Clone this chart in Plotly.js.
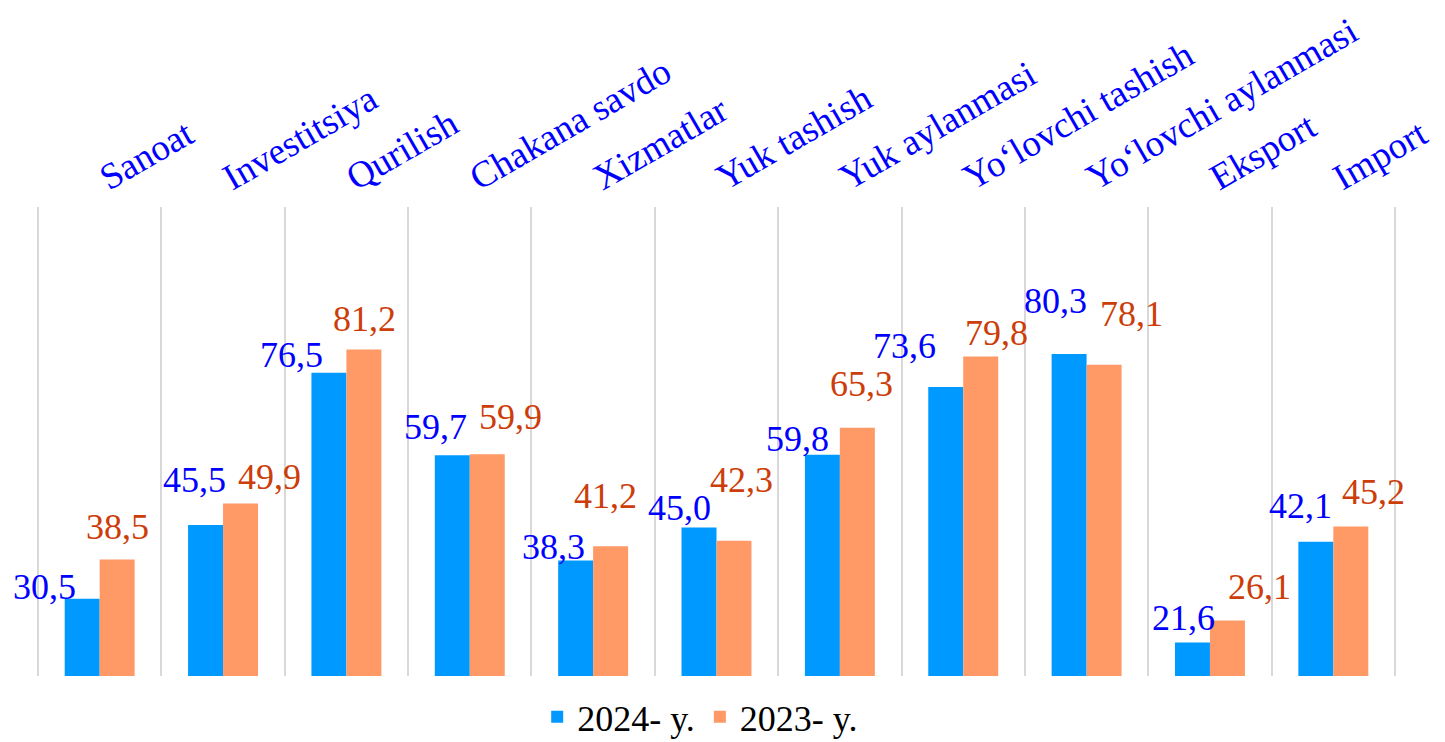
<!DOCTYPE html>
<html>
<head>
<meta charset="utf-8">
<script src="https://cdn.plot.ly/plotly-3.0.1.min.js"></script>
<style>
  html, body { margin: 0; padding: 0; background: #ffffff; }
  #chart { width: 1445px; height: 742px; }
  svg text { font-family: "Liberation Serif", "Times New Roman", "DejaVu Serif", serif !important; }
</style>
</head>
<body>
<div id="chart"></div>
<script>
// ---- data ----
const categories = ["Sanoat", "Investitsiya", "Qurilish", "Chakana savdo", "Xizmatlar",
  "Yuk tashish", "Yuk aylanmasi", "Yo\u2018lovchi tashish", "Yo\u2018lovchi aylanmasi", "Eksport", "Import"];
const values2024 = [30.5, 45.5, 76.5, 59.7, 38.3, 45.0, 59.8, 73.6, 80.3, 21.6, 42.1];
const values2023 = [38.5, 49.9, 81.2, 59.9, 41.2, 42.3, 65.3, 79.8, 78.1, 26.1, 45.2];
const seriesNames = ["2024- y.", "2023- y."];

// ---- label placement nudges (pixels: dx from category centre, dy above bar top) ----
const nudgeDx2024 = [-55, -29, -55, -34, -40, -37, -42, -59, -31, -26, -33];
const nudgeDy2024 = [12, 45, 18, 28, 13, 20, 16, 41, 53, 25, 36];
const nudgeDx2023 = [18, 46, 18, 41, 12, 25, 22, 33, 45, 50, 40];
const nudgeDy2023 = [32, 26, 31, 37, 50, 61, 44, 23, 51, 33, 35];

const blue = "#0099FF", orange = "#FF9966";
const blueText = "#0000FF", orangeText = "#CC3D0A";
const serif = "Liberation Serif";

const fmt = v => v.toFixed(1).replace(".", ",");

const traces = [
  { type: "bar", name: seriesNames[0], x: categories, y: values2024,
    marker: { color: blue }, hoverinfo: "skip" },
  { type: "bar", name: seriesNames[1], x: categories, y: values2023,
    marker: { color: orange }, hoverinfo: "skip" }
];

const annotations = [];
categories.forEach((c, i) => {
  annotations.push({ x: c, y: values2024[i], xref: "x", yref: "y", text: fmt(values2024[i]),
    showarrow: false, xanchor: "center", yanchor: "middle",
    xshift: nudgeDx2024[i], yshift: nudgeDy2024[i],
    font: { family: serif, size: 36, color: blueText } });
  annotations.push({ x: c, y: values2023[i], xref: "x", yref: "y", text: fmt(values2023[i]),
    showarrow: false, xanchor: "center", yanchor: "middle",
    xshift: nudgeDx2023[i], yshift: nudgeDy2023[i],
    font: { family: serif, size: 36, color: orangeText } });
});

// outer boundary gridlines (category edges at both ends of the axis)
const edgeLines = [-0.5, categories.length - 0.5].map(xv => ({
  type: "line", xref: "x", yref: "paper", x0: xv, x1: xv, y0: 0, y1: 1,
  line: { color: "#D9D9D9", width: 2 }, layer: "below"
}));

const layout = {
  width: 1445, height: 742,
  margin: { l: 37, r: 49, t: 207, b: 66, autoexpand: false },
  paper_bgcolor: "#ffffff", plot_bgcolor: "#ffffff",
  barmode: "group", bargap: 0.433, bargroupgap: 0,
  showlegend: true,
  legend: { orientation: "h", x: 0.488, xanchor: "center", y: -0.087, yanchor: "middle",
    font: { family: serif, size: 36, color: "#000000" }, traceorder: "normal" },
  xaxis: { type: "category", side: "top", range: [-0.508, 10.508],
    tickangle: -30, tickfont: { family: serif, size: 37, color: blueText },
    ticklabelstandoff: 5,
    showgrid: true, gridcolor: "#D9D9D9", gridwidth: 2, tickson: "boundaries",
    ticks: "", showline: false, zeroline: false, fixedrange: true },
  yaxis: { range: [14.8, 110.2], visible: false, showgrid: false, zeroline: false, fixedrange: true },
  shapes: edgeLines,
  annotations: annotations
};

Plotly.newPlot("chart", traces, layout, { displayModeBar: false, staticPlot: true });
</script>
</body>
</html>
